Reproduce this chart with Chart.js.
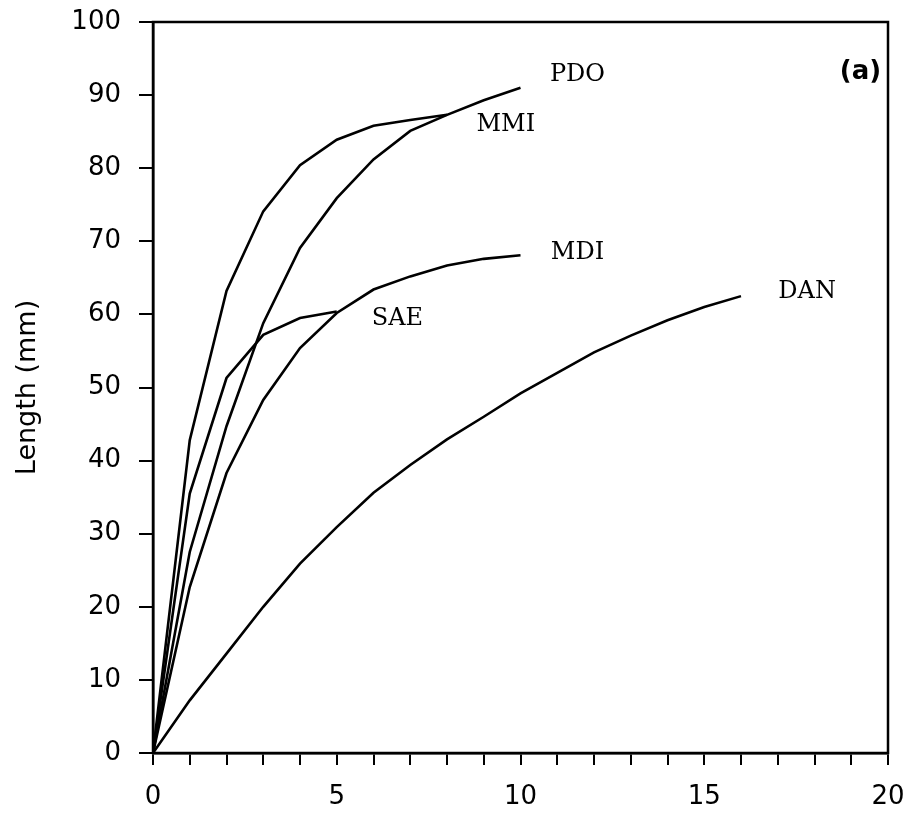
<!DOCTYPE html>
<html>
<head>
<meta charset="utf-8">
<script src="https://cdn.jsdelivr.net/npm/chart.js@4"></script>
<style>
	html, body { margin: 0; padding: 0; background: #fff; }
</style>
</head>
<body>
<canvas id="c" width="913" height="815"></canvas>
<script>
// age (years) for each measured point
const ages = [0, 1, 2, 3, 4, 5, 6, 7, 8, 9, 10, 11, 12, 13, 14, 15, 16];

// length (mm) at each age, one array per population
const mmi = [0, 42.8, 63.2, 74.1, 80.4, 83.9, 85.8, 86.6, 87.3];
const pdo = [0, 27.5, 44.7, 58.8, 69.1, 75.9, 81.2, 85.1, 87.3, 89.3, 91];
const mdi = [0, 22.7, 38.3, 48.3, 55.4, 60.2, 63.4, 65.2, 66.7, 67.6, 68.1];
const sae = [0, 35.5, 51.3, 57.2, 59.5, 60.4];
const dan = [0, 7.2, 13.6, 20, 25.9, 30.9, 35.6, 39.4, 42.9, 46.0, 49.2, 52.0, 54.8, 57.1, 59.2, 61.0, 62.5];

const names = ["MMI", "PDO", "MDI", "SAE", "DAN"];
const series = [mmi, pdo, mdi, sae, dan];

// where each curve name is written (data coords)
const labelX = [9.6, 11.55, 11.55, 6.65, 17.8];
const labelY = [86.0, 92.8, 68.4, 59.4, 63.1];

const xTicks = [0, 5, 10, 15, 20];
const yTicks = [0, 10, 20, 30, 40, 50, 60, 70, 80, 90, 100];

const toPoints = vals => vals.map((v, i) => ({x: ages[i], y: v}));

const curveLabels = {
	id: "curveLabels",
	afterDatasetsDraw(chart) {
		const {ctx, scales: {x, y}, chartArea} = chart;
		ctx.save();
		ctx.fillStyle = "#000";
		ctx.textAlign = "center";
		ctx.textBaseline = "middle";
		ctx.font = "24px 'DejaVu Serif'";
		names.forEach((n, i) => {
			ctx.fillText(n, x.getPixelForValue(labelX[i]), y.getPixelForValue(labelY[i]));
		});
		ctx.font = "bold 26px 'DejaVu Sans'";
		ctx.fillText("(a)", x.getPixelForValue(19.25), y.getPixelForValue(93.1));
		// frame
		ctx.strokeStyle = "#000";
		ctx.lineWidth = 2.5;
		ctx.strokeRect(chartArea.left, chartArea.top, chartArea.right - chartArea.left, chartArea.bottom - chartArea.top);
		ctx.restore();
	}
};

new Chart(document.getElementById("c"), {
	type: "line",
	data: {
		datasets: series.map((s, i) => ({
			label: names[i],
			data: toPoints(s),
			borderColor: "#000",
			borderWidth: 2.6,
			pointRadius: 0,
			tension: 0,
			fill: false,
		})),
	},
	options: {
		responsive: false,
		animation: false,
		layout: {padding: {left: 0, right: 25, top: 22, bottom: 0}},
		plugins: {
			legend: {display: false},
			tooltip: {enabled: false},
		},
		scales: {
			x: {
				type: "linear",
				min: 0,
				max: 20,
				afterFit: s => { s.height = 62; s.paddingLeft = 0; s.paddingRight = 0; },
				ticks: {
					stepSize: 1,
					autoSkip: false,
					maxRotation: 0,
					padding: 17,
					color: "#000",
					font: {family: "DejaVu Sans", size: 26},
					callback: v => xTicks.includes(v) ? String(v) : "",
				},
				grid: {drawOnChartArea: false, drawTicks: true, tickLength: 12, color: "#000", lineWidth: 2},
				border: {display: true, color: "#000", width: 2.5},
			},
			y: {
				min: 0,
				max: 100,
				afterFit: s => { s.width = 153; s.paddingTop = 0; s.paddingBottom = 0; },
				ticks: {
					stepSize: 10,
					padding: 18,
					color: "#000",
					font: {family: "DejaVu Sans", size: 26},
					callback: v => yTicks.includes(v) ? String(v) : "",
				},
				grid: {drawOnChartArea: false, drawTicks: true, tickLength: 14, color: "#000", lineWidth: 2},
				border: {display: true, color: "#000", width: 2.5},
				title: {
					display: true,
					text: "Length (mm)",
					color: "#000",
					font: {family: "DejaVu Sans", size: 27},
					padding: {top: 12, bottom: 0},
				},
			},
		},
	},
	plugins: [curveLabels],
});
</script>
</body>
</html>
